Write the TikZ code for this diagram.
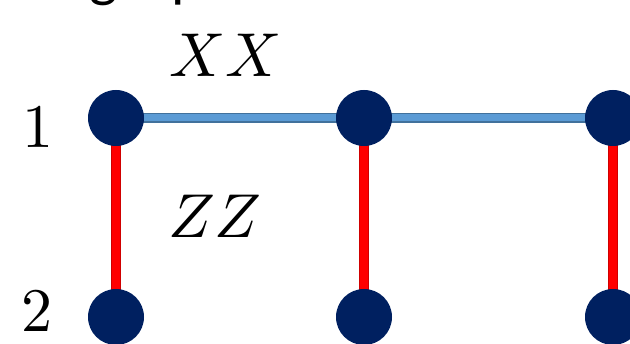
\documentclass[tikz,border=0pt]{standalone}
\usepackage{fontspec}
\newfontfamily\topfont{Carlito}
\usetikzlibrary{backgrounds}
\definecolor{navy}{HTML}{002060}
\definecolor{xxblue}{HTML}{5B9BD5}
\definecolor{xxedge}{HTML}{41719C}
\definecolor{zzedge}{HTML}{D00000}
\tikzset{
  site/.style={circle, fill=navy, minimum size=56pt, inner sep=0pt},
  lab/.style={inner sep=0pt, scale=6.2},
  toptext/.style={anchor=base west, inner sep=0pt, font=\topfont\fontsize{60}{60}\selectfont},
  xxedgeline/.style={line width=10pt, xxedge},
  xxline/.style={line width=7pt, xxblue},
  zzedgeline/.style={line width=10pt, zzedge},
  zzline/.style={line width=8pt, red},
}
\begin{document}
\begin{tikzpicture}[x=1pt, y=-1pt]
\useasboundingbox (0,0) rectangle (630,344);
\clip (0,0) rectangle (630,344);
\node[site] (a1) at (116,118) {};
\node[site] (b1) at (364,118) {};
\node[site] (c1) at (613,118) {};
\node[site] (a2) at (116,317) {};
\node[site] (b2) at (364,317) {};
\node[site] (c2) at (613,317) {};
\begin{scope}[on background layer]
  \draw[xxedgeline] (a1.center) -- (b1.center) -- (c1.center);
  \draw[xxline] (a1.center) -- (b1.center) -- (c1.center);
  \foreach \t/\b in {a1/a2, b1/b2, c1/c2} {
    \draw[zzedgeline] (\t.center) -- (\b.center);
    \draw[zzline] (\t.center) -- (\b.center);
  }
\end{scope}
\node[lab] (xx) at (226,55) {$XX$};
\node[lab] (zz) at (215,216) {$ZZ$};
\node[lab] (n1) at (38,127) {1};
\node[lab] (n2) at (37,311) {2};
\node[toptext] (tg) at (89,-4) {g};
\node[toptext] (tp) at (171,-4) {p};
\end{tikzpicture}
\end{document}
